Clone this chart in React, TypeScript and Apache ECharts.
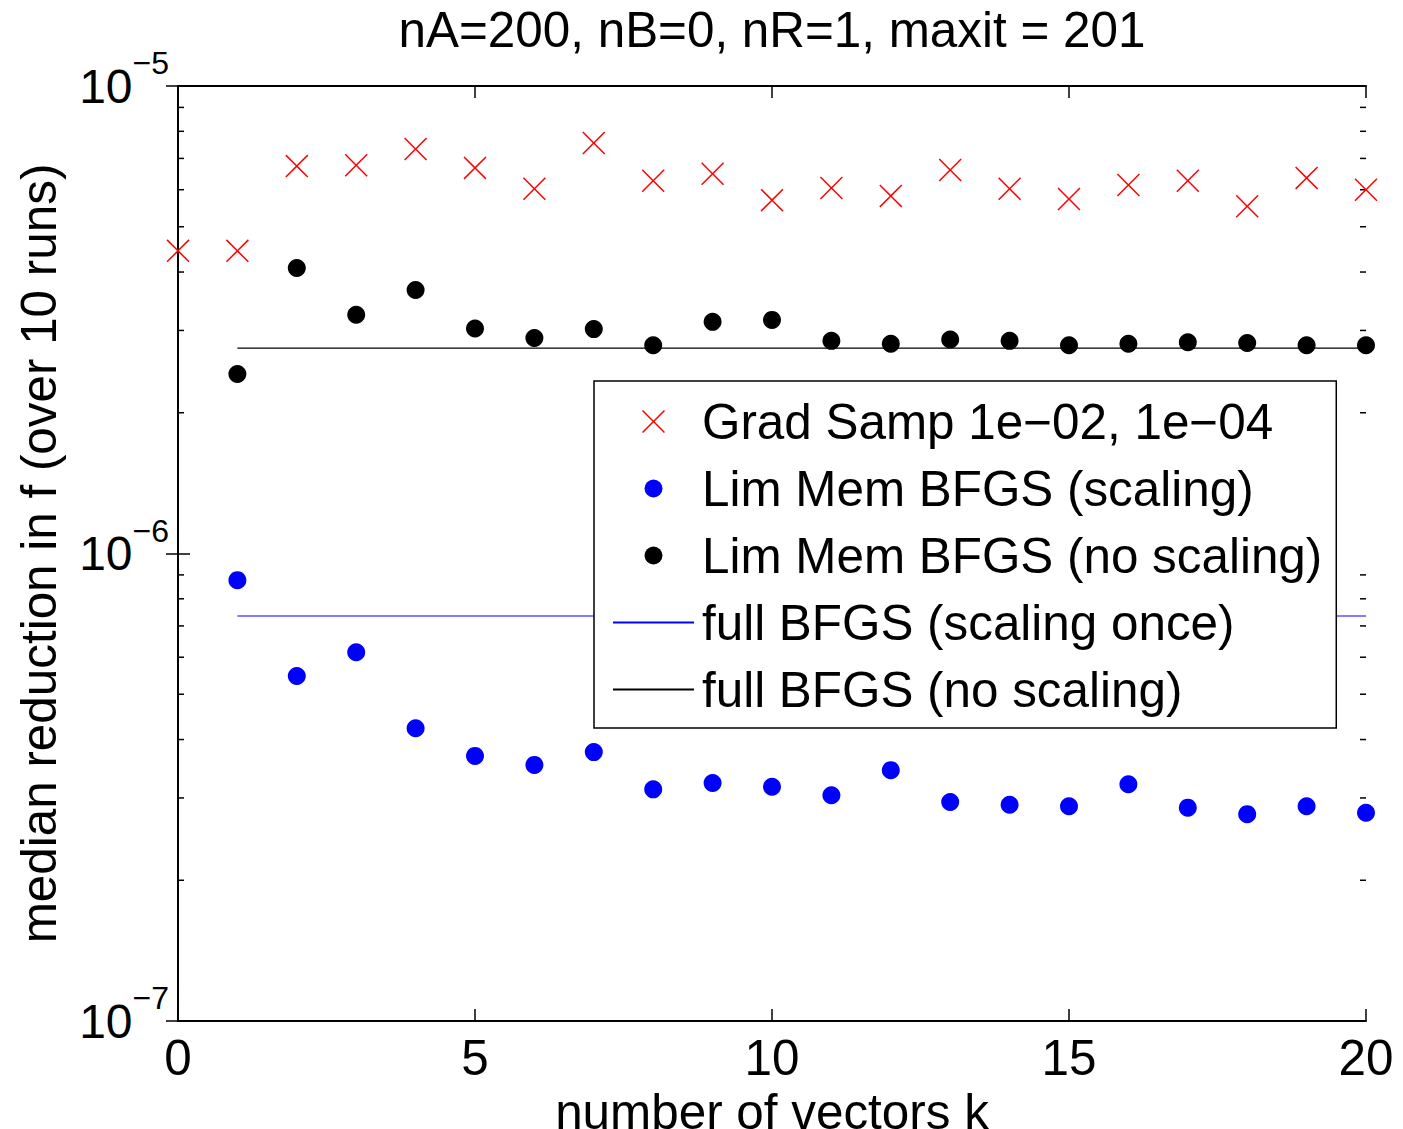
import React, { useEffect, useRef } from "react";
import * as echarts from "echarts";

// ---------- data ----------
const kGrad = [0, 1, 2, 3, 4, 5, 6, 7, 8, 9, 10, 11, 12, 13, 14, 15, 16, 17, 18, 19, 20];
const gradSamp = [
  4.44e-6, 4.44e-6, 6.74e-6, 6.77e-6, 7.33e-6, 6.68e-6, 6.03e-6, 7.55e-6, 6.27e-6, 6.49e-6,
  5.7e-6, 6.05e-6, 5.82e-6, 6.61e-6, 6.03e-6, 5.73e-6, 6.14e-6, 6.27e-6, 5.53e-6, 6.36e-6, 6.0e-6,
];
const kLim = [1, 2, 3, 4, 5, 6, 7, 8, 9, 10, 11, 12, 13, 14, 15, 16, 17, 18, 19, 20];
const limScaling = [
  8.77e-7, 5.47e-7, 6.15e-7, 4.23e-7, 3.69e-7, 3.53e-7, 3.76e-7, 3.13e-7, 3.23e-7, 3.17e-7,
  3.04e-7, 3.44e-7, 2.94e-7, 2.9e-7, 2.88e-7, 3.21e-7, 2.86e-7, 2.77e-7, 2.88e-7, 2.79e-7,
];
const limNoScaling = [
  2.42e-6, 4.08e-6, 3.24e-6, 3.66e-6, 3.03e-6, 2.89e-6, 3.02e-6, 2.79e-6, 3.13e-6, 3.16e-6,
  2.85e-6, 2.81e-6, 2.87e-6, 2.85e-6, 2.79e-6, 2.81e-6, 2.83e-6, 2.82e-6, 2.79e-6, 2.79e-6,
];
const fullK = [1, 20];
const fullScalingOnce = [7.35e-7, 7.35e-7];
const fullNoScaling = [2.75e-6, 2.75e-6];
const minorTickValues = [
  2e-7, 3e-7, 4e-7, 5e-7, 6e-7, 7e-7, 8e-7, 9e-7,
  2e-6, 3e-6, 4e-6, 5e-6, 6e-6, 7e-6, 8e-6, 9e-6,
];
const seriesNames = [
  "Grad Samp 1e\u221202, 1e\u221204",
  "Lim Mem BFGS (scaling)",
  "Lim Mem BFGS (no scaling)",
  "full BFGS (scaling once)",
  "full BFGS (no scaling)",
];
const titleText = "nA=200, nB=0, nR=1, maxit = 201";
const xName = "number of vectors k";
const yName = "median reduction in f (over 10 runs)";

// ---------- styles ----------
const FONT = "'Liberation Sans', Arial, Helvetica, sans-serif";
const FS = 49.4;
const crossPath =
  "path://M0 1.1 L1.1 0 L12 10.9 L22.9 0 L24 1.1 L13.1 12 L24 22.9 L22.9 24 L12 13.1 L1.1 24 L0 22.9 L10.9 12 Z";
const dotLegendIcon =
  "path://M0 0 M23 23 M2.5 11.5 A9 9 0 1 0 20.5 11.5 A9 9 0 1 0 2.5 11.5 Z";

export default function App() {
  const ref = useRef<HTMLDivElement>(null);

  useEffect(() => {
    if (!ref.current) return;
    const chart = echarts.init(ref.current, null, { renderer: "svg" });

    const axisLine = { show: true, lineStyle: { color: "#000", width: 2 } };
    const axisTick = { show: true, inside: true, length: 12, lineStyle: { color: "#000", width: 1.5 } };
    const hiddenSymbol = { color: "rgba(0,0,0,0)", borderWidth: 0, opacity: 0 };

    const option: any = {
      animation: false,
      backgroundColor: "#fff",
      title: {
        text: titleText,
        left: 767,
        top: 0,
        textAlign: "center",
        textStyle: { fontSize: FS, fontWeight: "normal", color: "#000", fontFamily: FONT },
      },
      grid: { left: 178, right: 37, top: 86, bottom: 108, outerBoundsMode: "none", containLabel: false },
      xAxis: [
        {
          type: "value",
          min: 0,
          max: 20,
          interval: 5,
          position: "bottom",
          axisLine,
          axisTick,
          splitLine: { show: false },
          axisLabel: { fontSize: FS, color: "#000", fontFamily: FONT, margin: 12 },
          name: xName,
          nameLocation: "middle",
          nameGap: 57,
          nameTextStyle: { fontSize: FS, color: "#000", fontFamily: FONT },
        },
        {
          type: "value",
          min: 0,
          max: 20,
          interval: 5,
          position: "top",
          axisLine,
          axisTick,
          splitLine: { show: false },
          axisLabel: { show: false },
        },
      ],
      yAxis: [
        {
          type: "log",
          logBase: 10,
          min: 1e-7,
          max: 1e-5,
          position: "left",
          axisLine,
          axisTick,
          splitLine: { show: false },
          minorTick: { show: false },
          axisLabel: {
            margin: 9,
            color: "#000",
            fontFamily: FONT,
            formatter: (v: number) => {
              const e = Math.round(Math.log10(v));
              return "{b|10}{s|\u2212" + Math.abs(e) + "}";
            },
            rich: {
              b: { fontSize: 48, lineHeight: 48, color: "#000", fontFamily: FONT },
              s: { fontSize: 32, lineHeight: 32, padding: [0, 0, 46, 0], color: "#000", fontFamily: FONT },
            },
          },
          name: yName,
          nameLocation: "middle",
          nameGap: 115,
          nameMoveOverlap: false,
          nameRotate: 90,
          nameTextStyle: { fontSize: FS, color: "#000", fontFamily: FONT },
        },
        {
          type: "log",
          logBase: 10,
          min: 1e-7,
          max: 1e-5,
          position: "right",
          axisLine,
          axisTick,
          splitLine: { show: false },
          axisLabel: { show: false },
        },
      ],
      legend: {
        orient: "vertical",
        left: 594,
        top: 381,
        padding: [16, 14, 14, 18],
        itemGap: 18,
        itemWidth: 81,
        itemHeight: 23,
        selectedMode: false,
        borderColor: "#000",
        borderWidth: 1.5,
        backgroundColor: "#fff",
        textStyle: { fontSize: FS, lineHeight: 48, color: "#000", fontFamily: FONT, padding: [0, 0, 0, 3] },
        data: [
          { name: seriesNames[0], icon: crossPath },
          { name: seriesNames[1], icon: dotLegendIcon },
          { name: seriesNames[2], icon: dotLegendIcon },
          { name: seriesNames[3], itemStyle: hiddenSymbol },
          { name: seriesNames[4], itemStyle: hiddenSymbol },
        ],
      },
      series: [
        {
          type: "custom",
          name: "minorTicks",
          xAxisIndex: 0,
          yAxisIndex: 0,
          silent: true,
          clip: false,
          z: 3,
          data: minorTickValues.map((v) => [0, v]),
          renderItem: (_params: any, api: any) => {
            const v = api.value(1);
            const l = api.coord([0, v]);
            const r = api.coord([20, v]);
            return {
              type: "group",
              children: [
                { type: "line", shape: { x1: l[0], y1: l[1], x2: l[0] + 6, y2: l[1] }, style: { stroke: "#000", lineWidth: 1.5 } },
                { type: "line", shape: { x1: r[0] - 6, y1: r[1], x2: r[0], y2: r[1] }, style: { stroke: "#000", lineWidth: 1.5 } },
              ],
            };
          },
        },
        {
          type: "line",
          name: seriesNames[3],
          data: fullK.map((k, i) => [k, fullScalingOnce[i]]),
          symbol: "none",
          lineStyle: { color: "#0000ff", width: 1.2 },
          itemStyle: { color: "#0000ff" },
          z: 1,
        },
        {
          type: "line",
          name: seriesNames[4],
          data: fullK.map((k, i) => [k, fullNoScaling[i]]),
          symbol: "none",
          lineStyle: { color: "#000", width: 1.2 },
          itemStyle: { color: "#000" },
          z: 1,
        },
        {
          type: "scatter",
          name: seriesNames[0],
          data: kGrad.map((k, i) => [k, gradSamp[i]]),
          symbol: crossPath,
          symbolSize: 23,
          itemStyle: { color: "#ff0000", opacity: 1 },
          clip: false,
          z: 4,
        },
        {
          type: "scatter",
          name: seriesNames[1],
          data: kLim.map((k, i) => [k, limScaling[i]]),
          symbol: "circle",
          symbolSize: 18,
          itemStyle: { color: "#0000ff", opacity: 1 },
          clip: false,
          z: 4,
        },
        {
          type: "scatter",
          name: seriesNames[2],
          data: kLim.map((k, i) => [k, limNoScaling[i]]),
          symbol: "circle",
          symbolSize: 18,
          itemStyle: { color: "#000", opacity: 1 },
          clip: false,
          z: 4,
        },
      ],
    };

    chart.setOption(option);
    return () => chart.dispose();
  }, []);

  return (
    <div
      ref={ref}
      style={{ position: "absolute", left: 0, top: 0, width: 1403, height: 1129, background: "#fff" }}
    />
  );
}
